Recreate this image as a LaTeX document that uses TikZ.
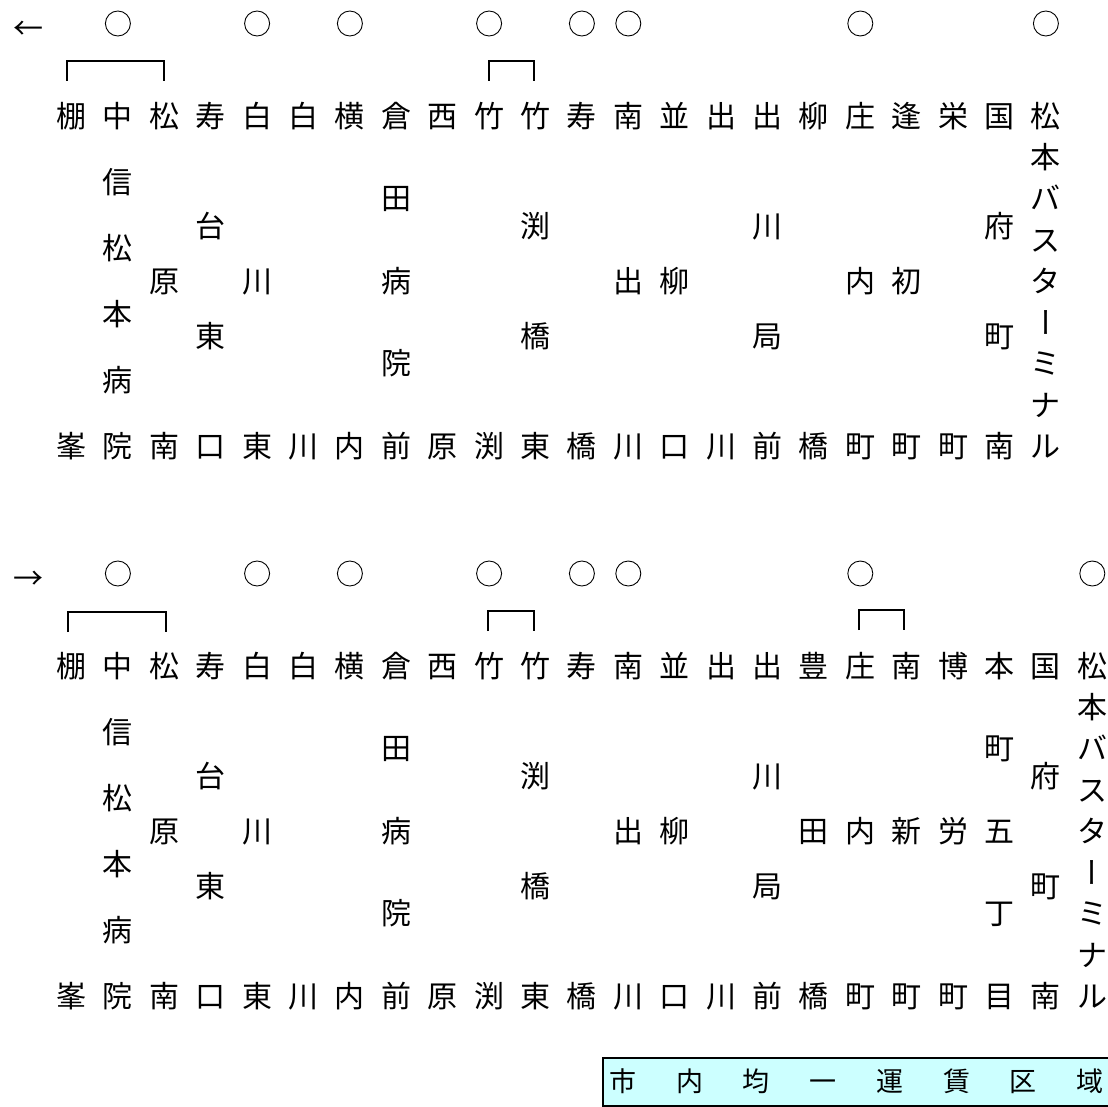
\documentclass[tikz,border=0pt]{standalone}
\usepackage{fontspec}
\newfontfamily\jp{Noto Sans CJK JP}
\definecolor{boxfill}{RGB}{204,255,255}
\begin{document}
\begin{tikzpicture}[x=1pt,y=-1pt,
  ch/.style={font=\jp\fontsize{30}{30}\selectfont, inner sep=0pt, text height=26.4pt, text depth=3.6pt},
  sq/.style={font=\jp\fontsize{27}{27}\selectfont, inner sep=0pt, text height=23.8pt, text depth=3.2pt},
  arr/.style={font=\jp\fontsize{30}{30}\selectfont, inner sep=0pt, text height=26.4pt, text depth=3.6pt},
  stopmark/.style={circle, draw, line width=0.9pt, minimum size=25pt, inner sep=0pt},
  bracket/.style={line width=1.4pt},
  farebox/.style={draw, line width=2pt, fill=boxfill}]
\useasboundingbox (0,0) rectangle (1108,1107);

% ---------------- top section (towards the left) ----------------
\node[arr] (arrowL) at (28,28) {←};
\foreach \k in {1,4,6,9,11,12,17,21}
  \node[stopmark] (tc\k) at ({71.5+46.4*\k},23.5) {};
\coordinate (tb1a) at (67,81); \coordinate (tb1b) at (164,81);
\coordinate (tb2a) at (489,81); \coordinate (tb2b) at (534,81);
\draw[bracket] (tb1a) -- ++(0,-20) -| (tb1b);
\draw[bracket] (tb2a) -- ++(0,-20) -| (tb2b);

\foreach \k/\n/\s in {
  0/2/{棚,峯}, 1/6/{中,信,松,本,病,院}, 2/3/{松,原,南}, 3/4/{寿,台,東,口},
  4/3/{白,川,東}, 5/2/{白,川}, 6/2/{横,内}, 7/5/{倉,田,病,院,前},
  8/2/{西,原}, 9/2/{竹,渕}, 10/4/{竹,渕,橋,東}, 11/2/{寿,橋},
  12/3/{南,出,川}, 13/3/{並,柳,口}, 14/2/{出,川}, 15/4/{出,川,局,前},
  16/2/{柳,橋}, 17/3/{庄,内,町}, 18/3/{逢,初,町}, 19/2/{栄,町},
  20/4/{国,府,町,南}}{
  \foreach \c [count=\i] in \s
    \node[ch] (t\k-\i) at ({71.5+46.4*\k},{116+(\i-1)*330/(\n-1)}) {\c};
}
\foreach \c/\r [count=\i] in {松/0,本/0,バ/0,ス/0,タ/0,ー/-90,ミ/0,ナ/0,ル/0}
  \node[ch, rotate=\r] (t21-\i) at ({71.5+46.4*21},{116+(\i-1)*330/8}) {\c};

% ---------------- bottom section (towards the right) ----------------
\node[arr] (arrowR) at (28,578) {→};
\foreach \k in {1,4,6,9,11,12,17,22}
  \node[stopmark] (bc\k) at ({71.5+46.4*\k},573.5) {};
\coordinate (bb1a) at (68,632); \coordinate (bb1b) at (166,632);
\coordinate (bb2a) at (488,631); \coordinate (bb2b) at (534,631);
\coordinate (bb3a) at (859,630); \coordinate (bb3b) at (904,630);
\draw[bracket] (bb1a) -- ++(0,-20) -| (bb1b);
\draw[bracket] (bb2a) -- ++(0,-20) -| (bb2b);
\draw[bracket] (bb3a) -- ++(0,-20) -| (bb3b);

\foreach \k/\n/\s in {
  0/2/{棚,峯}, 1/6/{中,信,松,本,病,院}, 2/3/{松,原,南}, 3/4/{寿,台,東,口},
  4/3/{白,川,東}, 5/2/{白,川}, 6/2/{横,内}, 7/5/{倉,田,病,院,前},
  8/2/{西,原}, 9/2/{竹,渕}, 10/4/{竹,渕,橋,東}, 11/2/{寿,橋},
  12/3/{南,出,川}, 13/3/{並,柳,口}, 14/2/{出,川}, 15/4/{出,川,局,前},
  16/3/{豊,田,橋}, 17/3/{庄,内,町}, 18/3/{南,新,町}, 19/3/{博,労,町},
  20/5/{本,町,五,丁,目}, 21/4/{国,府,町,南}}{
  \foreach \c [count=\i] in \s
    \node[ch] (b\k-\i) at ({71.5+46.4*\k},{666+(\i-1)*330/(\n-1)}) {\c};
}
\foreach \c/\r [count=\i] in {松/0,本/0,バ/0,ス/0,タ/0,ー/-90,ミ/0,ナ/0,ル/0}
  \node[ch, rotate=\r] (b22-\i) at ({71.5+46.4*22},{666+(\i-1)*330/8}) {\c};

% ---------------- fare zone box ----------------
\draw[farebox] (603,1058) rectangle (1116,1106);
\foreach \c [count=\i] in {市,内,均,一,運,賃,区,域}
  \node[sq] (z\i) at ({623+66.7*(\i-1)},1081) {\c};
\end{tikzpicture}
\end{document}
